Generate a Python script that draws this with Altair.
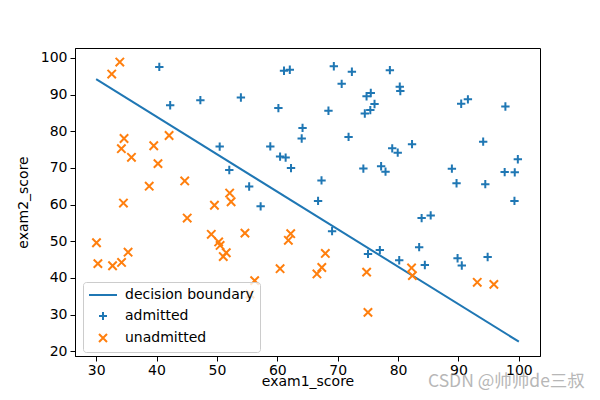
import altair as alt
import pandas as pd

# admitted students (exam1, exam2)
adm_x = [60.18, 79.03, 61.11, 75.02, 76.10, 84.43, 82.31, 69.36, 53.97, 69.07,
         70.66, 76.98, 89.68, 77.92, 62.27, 80.19, 61.38, 85.40, 52.05, 64.18,
         83.90, 94.44, 77.19, 97.77, 62.07, 91.56, 79.94, 99.27, 90.55, 97.65,
         74.25, 71.80, 75.40, 40.46, 80.28, 66.75, 64.04, 72.35, 60.46, 58.84,
         99.83, 47.26, 50.46, 88.91, 94.83, 67.32, 57.24, 80.37, 68.47, 75.48,
         78.64, 94.09, 90.45, 74.49, 89.85, 83.49, 42.26, 99.32, 55.34, 74.78]
adm_y = [86.31, 75.34, 96.51, 46.55, 87.42, 43.53, 76.48, 97.72, 89.21, 52.74,
         92.93, 47.58, 65.80, 68.97, 69.95, 44.82, 72.81, 57.05, 69.43, 80.91,
         56.31, 65.57, 70.46, 86.73, 96.77, 88.70, 74.16, 61.00, 43.39, 68.86,
         69.82, 78.45, 85.76, 97.54, 92.12, 60.99, 78.03, 96.23, 73.09, 75.86,
         72.37, 88.48, 75.81, 69.80, 45.69, 66.59, 59.51, 90.96, 85.59, 90.42,
         96.65, 77.16, 87.51, 84.85, 45.36, 48.38, 87.10, 68.78, 64.93, 89.53]

# unadmitted students
un_x = [34.62, 30.29, 35.85, 45.08, 95.86, 75.01, 39.54, 67.95, 67.37, 50.53,
        34.21, 93.11, 61.83, 38.79, 52.11, 40.24, 54.64, 33.92, 74.79, 34.18,
        51.55, 82.37, 51.05, 62.22, 34.52, 50.29, 49.59, 32.58, 35.29, 56.25,
        30.06, 44.67, 66.56, 49.07, 32.72, 60.46, 82.23, 42.08, 52.35, 55.48]
un_y = [78.02, 43.89, 72.90, 56.32, 38.23, 30.60, 76.04, 46.68, 42.84, 48.86,
        44.21, 38.80, 50.26, 65.00, 63.13, 71.17, 52.21, 98.87, 41.57, 75.24,
        46.86, 40.62, 45.82, 52.06, 60.40, 49.80, 59.81, 95.60, 47.02, 39.26,
        49.59, 66.45, 41.09, 51.88, 43.31, 42.51, 42.72, 78.84, 60.77, 35.57]

# decision boundary end points
line_x = [30, 100]
line_y = [94.2, 22.6]

series_names = ["decision boundary", "admitted", "unadmitted"]
series_colors = ["#1f77b4", "#1f77b4", "#ff7f0e"]
series_shapes = ["M-3.5,0H3.5", "M-1,0H1M0,-1V1", "M-1,-1L1,1M-1,1L1,-1"]

watermark = "CSDN @帅帅de三叔"

pts = pd.DataFrame({
    "exam1": adm_x + un_x,
    "exam2": adm_y + un_y,
    "series": ["admitted"] * len(adm_x) + ["unadmitted"] * len(un_x),
})
line_df = pd.DataFrame({"exam1": line_x, "exam2": line_y,
                        "series": ["decision boundary"] * len(line_x)})
wm_df = pd.DataFrame({"t": [watermark]})

xs = alt.Scale(domain=[26.5, 103.5], nice=False, zero=False)
ys = alt.Scale(domain=[18.7, 102.7], nice=False, zero=False)
xenc = alt.X("exam1:Q", scale=xs, title="exam1_score",
             axis=alt.Axis(values=list(range(30, 101, 10)), titlePadding=-3,
                           labelPadding=2))
yenc = alt.Y("exam2:Q", scale=ys, title="exam2_score",
             axis=alt.Axis(values=list(range(20, 101, 10)), titlePadding=10))
color = alt.Color("series:N", title=None,
                  scale=alt.Scale(domain=series_names, range=series_colors))
shape = alt.Shape("series:N", title=None,
                  scale=alt.Scale(domain=series_names, range=series_shapes))

line = alt.Chart(line_df).mark_line(strokeWidth=2).encode(x=xenc, y=yenc, color=color)
points = alt.Chart(pts).mark_point(filled=False, size=70, strokeWidth=2, opacity=1).encode(
    x=xenc, y=yenc, color=color, shape=shape)
wm = alt.Chart(wm_df).mark_text(
    font="Noto Sans CJK SC", fontSize=17.5, color="#888888", opacity=0.6,
    align="left", baseline="middle").encode(
    x=alt.value(353), y=alt.value(334), text="t:N")

chart = alt.layer(line, points, wm).properties(
    width=465, height=308,
    autosize=alt.AutoSizeParams(type="none"),
    padding={"left": 67, "top": 40, "right": 52, "bottom": 36},
).configure_view(stroke="black", strokeWidth=1).configure_axis(
    grid=False, domainColor="black", tickColor="black", tickSize=5,
    labelColor="black", titleColor="black", labelFont="DejaVu Sans",
    titleFont="DejaVu Sans", labelFontSize=14, titleFontSize=14,
    titleFontWeight="normal", labelPadding=3,
).configure_legend(
    orient="none", legendX=8, legendY=234, fillColor="rgba(255,255,255,0.8)",
    strokeColor="#cccccc", cornerRadius=3, padding=6,
    labelFont="DejaVu Sans", labelFontSize=14, labelColor="black",
    symbolStrokeWidth=2, symbolSize=64, symbolOffset=7, labelOffset=15,
    rowPadding=6,
)

chart.save("out.html", embed_options={"renderer": "svg", "actions": False})
